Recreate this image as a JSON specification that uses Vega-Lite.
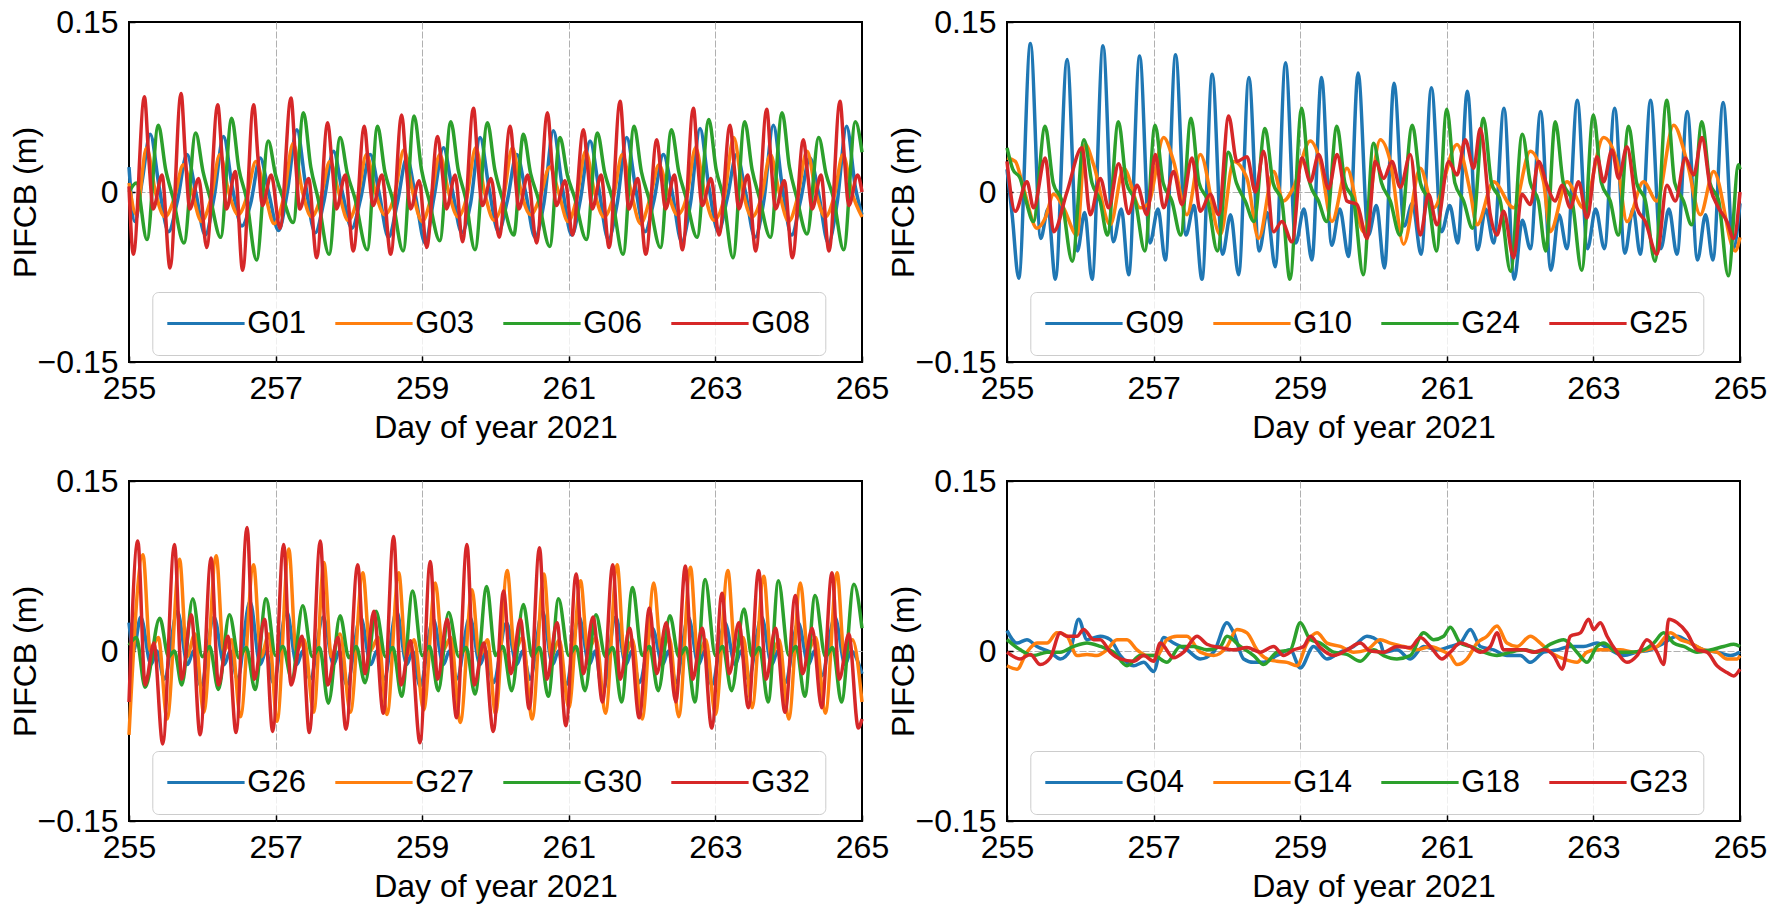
{
"$schema":"https://vega.github.io/schema/vega-lite/v6.json",
"padding":{"left":8,"top":5,"right":5,"bottom":5},
"background":"white",
"columns":2,
"spacing":{"row":119,"column":145},
"bounds":"flush",
"datasets":{
"p1":[
{"s":"G01","t":255.00,"v":0.022},{"s":"G01","t":255.08,"v":-0.026},{"s":"G01","t":255.18,"v":0.01},{"s":"G01","t":255.29,"v":0.051},{"s":"G01","t":255.41,"v":0.005},{"s":"G01","t":255.54,"v":-0.035},{"s":"G01","t":255.66,"v":-0.008},{"s":"G01","t":255.79,"v":0.033},{"s":"G01","t":255.91,"v":0.0},{"s":"G01","t":256.04,"v":-0.038},{"s":"G01","t":256.16,"v":-0.005},{"s":"G01","t":256.29,"v":0.049},{"s":"G01","t":256.41,"v":0.004},{"s":"G01","t":256.54,"v":-0.03},{"s":"G01","t":256.66,"v":-0.01},{"s":"G01","t":256.79,"v":0.03},{"s":"G01","t":256.91,"v":-0.002},{"s":"G01","t":257.04,"v":-0.034},{"s":"G01","t":257.16,"v":0.0},{"s":"G01","t":257.29,"v":0.055},{"s":"G01","t":257.41,"v":0.006},{"s":"G01","t":257.54,"v":-0.036},{"s":"G01","t":257.66,"v":-0.008},{"s":"G01","t":257.79,"v":0.036},{"s":"G01","t":257.91,"v":0.0},{"s":"G01","t":258.04,"v":-0.032},{"s":"G01","t":258.16,"v":-0.006},{"s":"G01","t":258.29,"v":0.033},{"s":"G01","t":258.41,"v":0.0},{"s":"G01","t":258.54,"v":-0.04},{"s":"G01","t":258.66,"v":-0.01},{"s":"G01","t":258.79,"v":0.03},{"s":"G01","t":258.91,"v":-0.004},{"s":"G01","t":259.04,"v":-0.045},{"s":"G01","t":259.16,"v":-0.005},{"s":"G01","t":259.29,"v":0.039},{"s":"G01","t":259.41,"v":0.002},{"s":"G01","t":259.54,"v":-0.036},{"s":"G01","t":259.66,"v":-0.01},{"s":"G01","t":259.79,"v":0.048},{"s":"G01","t":259.91,"v":0.004},{"s":"G01","t":260.04,"v":-0.035},{"s":"G01","t":260.16,"v":-0.008},{"s":"G01","t":260.29,"v":0.033},{"s":"G01","t":260.41,"v":0.0},{"s":"G01","t":260.54,"v":-0.04},{"s":"G01","t":260.66,"v":-0.01},{"s":"G01","t":260.79,"v":0.054},{"s":"G01","t":260.91,"v":0.005},{"s":"G01","t":261.04,"v":-0.038},{"s":"G01","t":261.16,"v":-0.006},{"s":"G01","t":261.29,"v":0.045},{"s":"G01","t":261.41,"v":0.003},{"s":"G01","t":261.54,"v":-0.042},{"s":"G01","t":261.66,"v":-0.01},{"s":"G01","t":261.79,"v":0.048},{"s":"G01","t":261.91,"v":0.004},{"s":"G01","t":262.04,"v":-0.035},{"s":"G01","t":262.16,"v":-0.008},{"s":"G01","t":262.29,"v":0.033},{"s":"G01","t":262.41,"v":0.0},{"s":"G01","t":262.54,"v":-0.044},{"s":"G01","t":262.66,"v":-0.01},{"s":"G01","t":262.79,"v":0.056},{"s":"G01","t":262.91,"v":0.005},{"s":"G01","t":263.04,"v":-0.035},{"s":"G01","t":263.16,"v":-0.006},{"s":"G01","t":263.29,"v":0.033},{"s":"G01","t":263.41,"v":0.0},{"s":"G01","t":263.54,"v":-0.04},{"s":"G01","t":263.66,"v":-0.008},{"s":"G01","t":263.79,"v":0.059},{"s":"G01","t":263.91,"v":0.006},{"s":"G01","t":264.04,"v":-0.038},{"s":"G01","t":264.16,"v":-0.008},{"s":"G01","t":264.29,"v":0.03},{"s":"G01","t":264.41,"v":-0.002},{"s":"G01","t":264.54,"v":-0.045},{"s":"G01","t":264.66,"v":-0.01},{"s":"G01","t":264.79,"v":0.058},{"s":"G01","t":264.91,"v":0.004},{"s":"G01","t":265.00,"v":-0.02},
{"s":"G03","t":255.00,"v":0.008},{"s":"G03","t":255.10,"v":-0.02},{"s":"G03","t":255.24,"v":0.039},{"s":"G03","t":255.36,"v":0.0},{"s":"G03","t":255.49,"v":-0.022},{"s":"G03","t":255.62,"v":-0.005},{"s":"G03","t":255.74,"v":0.024},{"s":"G03","t":255.86,"v":0.0},{"s":"G03","t":255.99,"v":-0.026},{"s":"G03","t":256.12,"v":-0.005},{"s":"G03","t":256.24,"v":0.033},{"s":"G03","t":256.36,"v":0.0},{"s":"G03","t":256.49,"v":-0.02},{"s":"G03","t":256.61,"v":-0.004},{"s":"G03","t":256.73,"v":0.027},{"s":"G03","t":256.85,"v":0.0},{"s":"G03","t":256.98,"v":-0.028},{"s":"G03","t":257.11,"v":-0.005},{"s":"G03","t":257.24,"v":0.043},{"s":"G03","t":257.36,"v":0.002},{"s":"G03","t":257.49,"v":-0.022},{"s":"G03","t":257.62,"v":-0.004},{"s":"G03","t":257.74,"v":0.027},{"s":"G03","t":257.86,"v":0.0},{"s":"G03","t":257.99,"v":-0.025},{"s":"G03","t":258.12,"v":-0.005},{"s":"G03","t":258.24,"v":0.033},{"s":"G03","t":258.36,"v":0.0},{"s":"G03","t":258.49,"v":-0.02},{"s":"G03","t":258.62,"v":-0.004},{"s":"G03","t":258.75,"v":0.037},{"s":"G03","t":258.87,"v":0.0},{"s":"G03","t":259.00,"v":-0.026},{"s":"G03","t":259.12,"v":-0.005},{"s":"G03","t":259.24,"v":0.033},{"s":"G03","t":259.36,"v":0.0},{"s":"G03","t":259.49,"v":-0.022},{"s":"G03","t":259.61,"v":-0.004},{"s":"G03","t":259.73,"v":0.039},{"s":"G03","t":259.85,"v":0.0},{"s":"G03","t":259.98,"v":-0.025},{"s":"G03","t":260.11,"v":-0.005},{"s":"G03","t":260.23,"v":0.039},{"s":"G03","t":260.35,"v":0.0},{"s":"G03","t":260.48,"v":-0.02},{"s":"G03","t":260.61,"v":-0.004},{"s":"G03","t":260.74,"v":0.022},{"s":"G03","t":260.86,"v":0.0},{"s":"G03","t":260.99,"v":-0.026},{"s":"G03","t":261.11,"v":-0.005},{"s":"G03","t":261.23,"v":0.036},{"s":"G03","t":261.35,"v":0.0},{"s":"G03","t":261.48,"v":-0.022},{"s":"G03","t":261.61,"v":-0.004},{"s":"G03","t":261.73,"v":0.033},{"s":"G03","t":261.85,"v":0.0},{"s":"G03","t":261.98,"v":-0.028},{"s":"G03","t":262.11,"v":-0.005},{"s":"G03","t":262.23,"v":0.024},{"s":"G03","t":262.35,"v":0.0},{"s":"G03","t":262.48,"v":-0.02},{"s":"G03","t":262.61,"v":-0.004},{"s":"G03","t":262.73,"v":0.039},{"s":"G03","t":262.85,"v":0.0},{"s":"G03","t":262.98,"v":-0.025},{"s":"G03","t":263.12,"v":-0.005},{"s":"G03","t":263.25,"v":0.048},{"s":"G03","t":263.37,"v":0.002},{"s":"G03","t":263.50,"v":-0.022},{"s":"G03","t":263.63,"v":-0.004},{"s":"G03","t":263.75,"v":0.033},{"s":"G03","t":263.87,"v":0.0},{"s":"G03","t":264.00,"v":-0.026},{"s":"G03","t":264.12,"v":-0.005},{"s":"G03","t":264.25,"v":0.036},{"s":"G03","t":264.37,"v":0.0},{"s":"G03","t":264.50,"v":-0.022},{"s":"G03","t":264.62,"v":-0.004},{"s":"G03","t":264.74,"v":0.033},{"s":"G03","t":264.86,"v":0.0},{"s":"G03","t":265.00,"v":-0.022},
{"s":"G06","t":255.00,"v":0.0},{"s":"G06","t":255.10,"v":0.008},{"s":"G06","t":255.245,"v":-0.042},{"s":"G06","t":255.40,"v":0.059},{"s":"G06","t":255.50,"v":0.02},{"s":"G06","t":255.60,"v":-0.005},{"s":"G06","t":255.75,"v":-0.045},{"s":"G06","t":255.91,"v":0.052},{"s":"G06","t":256.01,"v":0.018},{"s":"G06","t":256.11,"v":-0.006},{"s":"G06","t":256.25,"v":-0.04},{"s":"G06","t":256.40,"v":0.065},{"s":"G06","t":256.50,"v":0.02},{"s":"G06","t":256.60,"v":-0.005},{"s":"G06","t":256.74,"v":-0.06},{"s":"G06","t":256.90,"v":0.045},{"s":"G06","t":257.00,"v":0.015},{"s":"G06","t":257.10,"v":-0.005},{"s":"G06","t":257.24,"v":-0.027},{"s":"G06","t":257.38,"v":0.07},{"s":"G06","t":257.48,"v":0.022},{"s":"G06","t":257.58,"v":-0.006},{"s":"G06","t":257.73,"v":-0.055},{"s":"G06","t":257.88,"v":0.048},{"s":"G06","t":257.98,"v":0.016},{"s":"G06","t":258.08,"v":-0.005},{"s":"G06","t":258.25,"v":-0.051},{"s":"G06","t":258.39,"v":0.058},{"s":"G06","t":258.49,"v":0.018},{"s":"G06","t":258.59,"v":-0.005},{"s":"G06","t":258.74,"v":-0.052},{"s":"G06","t":258.89,"v":0.067},{"s":"G06","t":258.99,"v":0.02},{"s":"G06","t":259.09,"v":-0.006},{"s":"G06","t":259.24,"v":-0.043},{"s":"G06","t":259.39,"v":0.062},{"s":"G06","t":259.49,"v":0.02},{"s":"G06","t":259.59,"v":-0.005},{"s":"G06","t":259.72,"v":-0.051},{"s":"G06","t":259.89,"v":0.061},{"s":"G06","t":259.99,"v":0.02},{"s":"G06","t":260.09,"v":-0.005},{"s":"G06","t":260.25,"v":-0.038},{"s":"G06","t":260.38,"v":0.051},{"s":"G06","t":260.48,"v":0.016},{"s":"G06","t":260.58,"v":-0.005},{"s":"G06","t":260.74,"v":-0.048},{"s":"G06","t":260.88,"v":0.048},{"s":"G06","t":260.98,"v":0.015},{"s":"G06","t":261.08,"v":-0.005},{"s":"G06","t":261.24,"v":-0.042},{"s":"G06","t":261.39,"v":0.052},{"s":"G06","t":261.49,"v":0.017},{"s":"G06","t":261.59,"v":-0.005},{"s":"G06","t":261.74,"v":-0.055},{"s":"G06","t":261.89,"v":0.058},{"s":"G06","t":261.99,"v":0.018},{"s":"G06","t":262.09,"v":-0.005},{"s":"G06","t":262.25,"v":-0.049},{"s":"G06","t":262.40,"v":0.055},{"s":"G06","t":262.50,"v":0.018},{"s":"G06","t":262.60,"v":-0.005},{"s":"G06","t":262.75,"v":-0.04},{"s":"G06","t":262.91,"v":0.064},{"s":"G06","t":263.01,"v":0.02},{"s":"G06","t":263.11,"v":-0.005},{"s":"G06","t":263.24,"v":-0.058},{"s":"G06","t":263.40,"v":0.062},{"s":"G06","t":263.50,"v":0.02},{"s":"G06","t":263.60,"v":-0.005},{"s":"G06","t":263.75,"v":-0.04},{"s":"G06","t":263.91,"v":0.07},{"s":"G06","t":264.01,"v":0.022},{"s":"G06","t":264.11,"v":-0.005},{"s":"G06","t":264.25,"v":-0.037},{"s":"G06","t":264.41,"v":0.048},{"s":"G06","t":264.51,"v":0.016},{"s":"G06","t":264.61,"v":-0.005},{"s":"G06","t":264.75,"v":-0.051},{"s":"G06","t":264.91,"v":0.062},{"s":"G06","t":265.00,"v":0.035},
{"s":"G08","t":255.00,"v":0.005},{"s":"G08","t":255.06,"v":-0.055},{"s":"G08","t":255.21,"v":0.084},{"s":"G08","t":255.27,"v":0.03},{"s":"G08","t":255.33,"v":-0.015},{"s":"G08","t":255.45,"v":0.015},{"s":"G08","t":255.56,"v":-0.067},{"s":"G08","t":255.71,"v":0.087},{"s":"G08","t":255.77,"v":0.03},{"s":"G08","t":255.83,"v":-0.015},{"s":"G08","t":255.95,"v":0.012},{"s":"G08","t":256.06,"v":-0.049},{"s":"G08","t":256.21,"v":0.077},{"s":"G08","t":256.27,"v":0.03},{"s":"G08","t":256.33,"v":-0.015},{"s":"G08","t":256.45,"v":0.018},{"s":"G08","t":256.55,"v":-0.069},{"s":"G08","t":256.70,"v":0.077},{"s":"G08","t":256.76,"v":0.03},{"s":"G08","t":256.82,"v":-0.012},{"s":"G08","t":256.94,"v":0.015},{"s":"G08","t":257.06,"v":-0.032},{"s":"G08","t":257.21,"v":0.083},{"s":"G08","t":257.27,"v":0.03},{"s":"G08","t":257.33,"v":-0.015},{"s":"G08","t":257.45,"v":0.012},{"s":"G08","t":257.56,"v":-0.058},{"s":"G08","t":257.71,"v":0.061},{"s":"G08","t":257.77,"v":0.025},{"s":"G08","t":257.83,"v":-0.015},{"s":"G08","t":257.95,"v":0.015},{"s":"G08","t":258.06,"v":-0.052},{"s":"G08","t":258.21,"v":0.058},{"s":"G08","t":258.27,"v":0.02},{"s":"G08","t":258.33,"v":-0.012},{"s":"G08","t":258.45,"v":0.015},{"s":"G08","t":258.57,"v":-0.055},{"s":"G08","t":258.72,"v":0.068},{"s":"G08","t":258.78,"v":0.025},{"s":"G08","t":258.84,"v":-0.015},{"s":"G08","t":258.96,"v":0.01},{"s":"G08","t":259.06,"v":-0.049},{"s":"G08","t":259.21,"v":0.049},{"s":"G08","t":259.27,"v":0.02},{"s":"G08","t":259.33,"v":-0.015},{"s":"G08","t":259.45,"v":0.015},{"s":"G08","t":259.55,"v":-0.044},{"s":"G08","t":259.70,"v":0.074},{"s":"G08","t":259.76,"v":0.025},{"s":"G08","t":259.82,"v":-0.012},{"s":"G08","t":259.94,"v":0.012},{"s":"G08","t":260.05,"v":-0.04},{"s":"G08","t":260.20,"v":0.058},{"s":"G08","t":260.26,"v":0.02},{"s":"G08","t":260.32,"v":-0.015},{"s":"G08","t":260.44,"v":0.015},{"s":"G08","t":260.56,"v":-0.045},{"s":"G08","t":260.71,"v":0.07},{"s":"G08","t":260.77,"v":0.025},{"s":"G08","t":260.83,"v":-0.012},{"s":"G08","t":260.95,"v":0.01},{"s":"G08","t":261.05,"v":-0.038},{"s":"G08","t":261.20,"v":0.055},{"s":"G08","t":261.26,"v":0.02},{"s":"G08","t":261.32,"v":-0.015},{"s":"G08","t":261.44,"v":0.015},{"s":"G08","t":261.55,"v":-0.049},{"s":"G08","t":261.70,"v":0.08},{"s":"G08","t":261.76,"v":0.03},{"s":"G08","t":261.82,"v":-0.015},{"s":"G08","t":261.94,"v":0.012},{"s":"G08","t":262.05,"v":-0.055},{"s":"G08","t":262.20,"v":0.046},{"s":"G08","t":262.26,"v":0.015},{"s":"G08","t":262.32,"v":-0.015},{"s":"G08","t":262.44,"v":0.015},{"s":"G08","t":262.55,"v":-0.051},{"s":"G08","t":262.70,"v":0.074},{"s":"G08","t":262.76,"v":0.025},{"s":"G08","t":262.82,"v":-0.012},{"s":"G08","t":262.94,"v":0.012},{"s":"G08","t":263.05,"v":-0.038},{"s":"G08","t":263.20,"v":0.059},{"s":"G08","t":263.26,"v":0.02},{"s":"G08","t":263.32,"v":-0.015},{"s":"G08","t":263.44,"v":0.015},{"s":"G08","t":263.55,"v":-0.052},{"s":"G08","t":263.70,"v":0.073},{"s":"G08","t":263.76,"v":0.025},{"s":"G08","t":263.82,"v":-0.015},{"s":"G08","t":263.94,"v":0.01},{"s":"G08","t":264.05,"v":-0.058},{"s":"G08","t":264.20,"v":0.046},{"s":"G08","t":264.26,"v":0.015},{"s":"G08","t":264.32,"v":-0.015},{"s":"G08","t":264.44,"v":0.015},{"s":"G08","t":264.55,"v":-0.052},{"s":"G08","t":264.70,"v":0.08},{"s":"G08","t":264.76,"v":0.03},{"s":"G08","t":264.82,"v":-0.012},{"s":"G08","t":264.94,"v":0.015},{"s":"G08","t":265.00,"v":0.0}
],
"p2":[
{"s":"G09","t":255.00,"v":0.02},{"s":"G09","t":255.07,"v":-0.02},{"s":"G09","t":255.16,"v":-0.076},{"s":"G09","t":255.32,"v":0.131},{"s":"G09","t":255.46,"v":-0.041},{"s":"G09","t":255.56,"v":-0.015},{"s":"G09","t":255.66,"v":-0.077},{"s":"G09","t":255.82,"v":0.117},{"s":"G09","t":255.96,"v":-0.052},{"s":"G09","t":256.06,"v":-0.018},{"s":"G09","t":256.16,"v":-0.077},{"s":"G09","t":256.31,"v":0.129},{"s":"G09","t":256.45,"v":-0.044},{"s":"G09","t":256.56,"v":-0.015},{"s":"G09","t":256.66,"v":-0.073},{"s":"G09","t":256.81,"v":0.12},{"s":"G09","t":256.95,"v":-0.045},{"s":"G09","t":257.06,"v":-0.015},{"s":"G09","t":257.16,"v":-0.06},{"s":"G09","t":257.30,"v":0.121},{"s":"G09","t":257.44,"v":-0.038},{"s":"G09","t":257.55,"v":-0.012},{"s":"G09","t":257.66,"v":-0.077},{"s":"G09","t":257.80,"v":0.104},{"s":"G09","t":257.94,"v":-0.055},{"s":"G09","t":258.05,"v":-0.02},{"s":"G09","t":258.16,"v":-0.073},{"s":"G09","t":258.30,"v":0.101},{"s":"G09","t":258.44,"v":-0.052},{"s":"G09","t":258.55,"v":-0.018},{"s":"G09","t":258.66,"v":-0.066},{"s":"G09","t":258.80,"v":0.114},{"s":"G09","t":258.94,"v":-0.045},{"s":"G09","t":259.05,"v":-0.015},{"s":"G09","t":259.16,"v":-0.06},{"s":"G09","t":259.29,"v":0.101},{"s":"G09","t":259.43,"v":-0.047},{"s":"G09","t":259.54,"v":-0.015},{"s":"G09","t":259.66,"v":-0.057},{"s":"G09","t":259.79,"v":0.105},{"s":"G09","t":259.93,"v":-0.038},{"s":"G09","t":260.04,"v":-0.012},{"s":"G09","t":260.15,"v":-0.067},{"s":"G09","t":260.28,"v":0.096},{"s":"G09","t":260.42,"v":-0.03},{"s":"G09","t":260.53,"v":-0.01},{"s":"G09","t":260.65,"v":-0.055},{"s":"G09","t":260.79,"v":0.092},{"s":"G09","t":260.93,"v":-0.035},{"s":"G09","t":261.04,"v":-0.012},{"s":"G09","t":261.15,"v":-0.045},{"s":"G09","t":261.28,"v":0.089},{"s":"G09","t":261.42,"v":-0.051},{"s":"G09","t":261.53,"v":-0.015},{"s":"G09","t":261.64,"v":-0.045},{"s":"G09","t":261.78,"v":0.074},{"s":"G09","t":261.92,"v":-0.077},{"s":"G09","t":262.03,"v":-0.025},{"s":"G09","t":262.14,"v":-0.05},{"s":"G09","t":262.28,"v":0.071},{"s":"G09","t":262.42,"v":-0.069},{"s":"G09","t":262.53,"v":-0.02},{"s":"G09","t":262.64,"v":-0.05},{"s":"G09","t":262.78,"v":0.081},{"s":"G09","t":262.92,"v":-0.05},{"s":"G09","t":263.03,"v":-0.015},{"s":"G09","t":263.15,"v":-0.05},{"s":"G09","t":263.29,"v":0.074},{"s":"G09","t":263.43,"v":-0.054},{"s":"G09","t":263.54,"v":-0.015},{"s":"G09","t":263.64,"v":-0.055},{"s":"G09","t":263.78,"v":0.081},{"s":"G09","t":263.92,"v":-0.05},{"s":"G09","t":264.03,"v":-0.015},{"s":"G09","t":264.14,"v":-0.055},{"s":"G09","t":264.28,"v":0.071},{"s":"G09","t":264.42,"v":-0.06},{"s":"G09","t":264.53,"v":-0.02},{"s":"G09","t":264.63,"v":-0.06},{"s":"G09","t":264.77,"v":0.079},{"s":"G09","t":264.91,"v":-0.05},{"s":"G09","t":265.00,"v":-0.01},
{"s":"G10","t":255.00,"v":0.03},{"s":"G10","t":255.113,"v":0.027},{"s":"G10","t":255.227,"v":0.003},{"s":"G10","t":255.409,"v":-0.032},{"s":"G10","t":255.522,"v":-0.023},{"s":"G10","t":255.636,"v":-0.002},{"s":"G10","t":255.772,"v":-0.014},{"s":"G10","t":255.955,"v":-0.038},{"s":"G10","t":256.068,"v":0.042},{"s":"G10","t":256.182,"v":0.024},{"s":"G10","t":256.409,"v":-0.029},{"s":"G10","t":256.591,"v":0.021},{"s":"G10","t":256.818,"v":-0.014},{"s":"G10","t":256.932,"v":-0.01},{"s":"G10","t":257.137,"v":0.048},{"s":"G10","t":257.273,"v":0.027},{"s":"G10","t":257.455,"v":-0.02},{"s":"G10","t":257.637,"v":0.033},{"s":"G10","t":257.91,"v":-0.038},{"s":"G10","t":258.092,"v":0.027},{"s":"G10","t":258.274,"v":0.012},{"s":"G10","t":258.433,"v":-0.041},{"s":"G10","t":258.638,"v":0.018},{"s":"G10","t":258.77,"v":-0.008},{"s":"G10","t":258.902,"v":0.003},{"s":"G10","t":259.138,"v":0.045},{"s":"G10","t":259.274,"v":0.027},{"s":"G10","t":259.433,"v":-0.026},{"s":"G10","t":259.638,"v":0.021},{"s":"G10","t":259.865,"v":-0.035},{"s":"G10","t":260.093,"v":0.046},{"s":"G10","t":260.229,"v":0.027},{"s":"G10","t":260.411,"v":-0.046},{"s":"G10","t":260.638,"v":0.021},{"s":"G10","t":260.82,"v":-0.014},{"s":"G10","t":261.139,"v":0.042},{"s":"G10","t":261.32,"v":0.0},{"s":"G10","t":261.411,"v":-0.029},{"s":"G10","t":261.638,"v":0.009},{"s":"G10","t":261.911,"v":-0.014},{"s":"G10","t":262.139,"v":0.036},{"s":"G10","t":262.32,"v":0.009},{"s":"G10","t":262.411,"v":-0.035},{"s":"G10","t":262.639,"v":0.009},{"s":"G10","t":262.866,"v":-0.014},{"s":"G10","t":263.139,"v":0.048},{"s":"G10","t":263.321,"v":0.027},{"s":"G10","t":263.457,"v":-0.026},{"s":"G10","t":263.684,"v":0.009},{"s":"G10","t":263.866,"v":-0.008},{"s":"G10","t":264.094,"v":0.059},{"s":"G10","t":264.276,"v":0.027},{"s":"G10","t":264.458,"v":-0.02},{"s":"G10","t":264.64,"v":0.018},{"s":"G10","t":264.935,"v":-0.052},{"s":"G10","t":265.00,"v":-0.04},
{"s":"G24","t":255.00,"v":0.039},{"s":"G24","t":255.08,"v":0.02},{"s":"G24","t":255.18,"v":0.012},{"s":"G24","t":255.26,"v":-0.008},{"s":"G24","t":255.36,"v":-0.026},{"s":"G24","t":255.52,"v":0.058},{"s":"G24","t":255.63,"v":0.008},{"s":"G24","t":255.75,"v":-0.008},{"s":"G24","t":255.89,"v":-0.061},{"s":"G24","t":256.05,"v":0.046},{"s":"G24","t":256.16,"v":0.008},{"s":"G24","t":256.27,"v":-0.008},{"s":"G24","t":256.37,"v":-0.038},{"s":"G24","t":256.52,"v":0.062},{"s":"G24","t":256.63,"v":0.008},{"s":"G24","t":256.75,"v":-0.008},{"s":"G24","t":256.88,"v":-0.052},{"s":"G24","t":257.02,"v":0.059},{"s":"G24","t":257.13,"v":0.008},{"s":"G24","t":257.25,"v":-0.008},{"s":"G24","t":257.37,"v":-0.038},{"s":"G24","t":257.51,"v":0.065},{"s":"G24","t":257.62,"v":0.008},{"s":"G24","t":257.74,"v":-0.008},{"s":"G24","t":257.87,"v":-0.052},{"s":"G24","t":258.02,"v":0.035},{"s":"G24","t":258.13,"v":0.008},{"s":"G24","t":258.25,"v":-0.008},{"s":"G24","t":258.37,"v":-0.026},{"s":"G24","t":258.52,"v":0.056},{"s":"G24","t":258.63,"v":0.008},{"s":"G24","t":258.75,"v":-0.008},{"s":"G24","t":258.86,"v":-0.077},{"s":"G24","t":259.02,"v":0.074},{"s":"G24","t":259.13,"v":0.008},{"s":"G24","t":259.25,"v":-0.008},{"s":"G24","t":259.36,"v":-0.026},{"s":"G24","t":259.50,"v":0.058},{"s":"G24","t":259.61,"v":0.008},{"s":"G24","t":259.73,"v":-0.008},{"s":"G24","t":259.86,"v":-0.073},{"s":"G24","t":260.00,"v":0.043},{"s":"G24","t":260.11,"v":0.008},{"s":"G24","t":260.23,"v":-0.008},{"s":"G24","t":260.36,"v":-0.038},{"s":"G24","t":260.53,"v":0.059},{"s":"G24","t":260.64,"v":0.008},{"s":"G24","t":260.75,"v":-0.008},{"s":"G24","t":260.86,"v":-0.052},{"s":"G24","t":261.00,"v":0.073},{"s":"G24","t":261.11,"v":0.008},{"s":"G24","t":261.23,"v":-0.008},{"s":"G24","t":261.35,"v":-0.032},{"s":"G24","t":261.50,"v":0.065},{"s":"G24","t":261.61,"v":0.008},{"s":"G24","t":261.73,"v":-0.008},{"s":"G24","t":261.87,"v":-0.07},{"s":"G24","t":262.03,"v":0.051},{"s":"G24","t":262.14,"v":0.008},{"s":"G24","t":262.25,"v":-0.008},{"s":"G24","t":262.35,"v":-0.052},{"s":"G24","t":262.48,"v":0.062},{"s":"G24","t":262.59,"v":0.008},{"s":"G24","t":262.71,"v":-0.008},{"s":"G24","t":262.84,"v":-0.069},{"s":"G24","t":263.00,"v":0.068},{"s":"G24","t":263.11,"v":0.008},{"s":"G24","t":263.23,"v":-0.008},{"s":"G24","t":263.34,"v":-0.038},{"s":"G24","t":263.48,"v":0.058},{"s":"G24","t":263.59,"v":0.008},{"s":"G24","t":263.71,"v":-0.008},{"s":"G24","t":263.84,"v":-0.061},{"s":"G24","t":264.00,"v":0.081},{"s":"G24","t":264.11,"v":0.008},{"s":"G24","t":264.23,"v":-0.008},{"s":"G24","t":264.34,"v":-0.029},{"s":"G24","t":264.48,"v":0.062},{"s":"G24","t":264.59,"v":0.008},{"s":"G24","t":264.71,"v":-0.008},{"s":"G24","t":264.84,"v":-0.074},{"s":"G24","t":264.98,"v":0.024},{"s":"G24","t":265.00,"v":0.02},
{"s":"G25","t":255.00,"v":0.027},{"s":"G25","t":255.113,"v":-0.017},{"s":"G25","t":255.272,"v":0.009},{"s":"G25","t":255.363,"v":-0.014},{"s":"G25","t":255.522,"v":0.03},{"s":"G25","t":255.636,"v":-0.035},{"s":"G25","t":255.818,"v":0.0},{"s":"G25","t":256.023,"v":0.039},{"s":"G25","t":256.136,"v":-0.02},{"s":"G25","t":256.273,"v":0.012},{"s":"G25","t":256.387,"v":-0.014},{"s":"G25","t":256.523,"v":0.025},{"s":"G25","t":256.659,"v":-0.019},{"s":"G25","t":256.773,"v":0.006},{"s":"G25","t":256.909,"v":-0.02},{"s":"G25","t":257.023,"v":0.033},{"s":"G25","t":257.137,"v":-0.014},{"s":"G25","t":257.273,"v":0.018},{"s":"G25","t":257.387,"v":-0.011},{"s":"G25","t":257.524,"v":0.03},{"s":"G25","t":257.637,"v":-0.017},{"s":"G25","t":257.773,"v":-0.002},{"s":"G25","t":257.887,"v":-0.02},{"s":"G25","t":258.024,"v":0.067},{"s":"G25","t":258.137,"v":0.027},{"s":"G25","t":258.274,"v":0.031},{"s":"G25","t":258.388,"v":0.0},{"s":"G25","t":258.501,"v":0.036},{"s":"G25","t":258.637,"v":-0.035},{"s":"G25","t":258.751,"v":-0.026},{"s":"G25","t":258.888,"v":-0.044},{"s":"G25","t":259.024,"v":0.03},{"s":"G25","t":259.138,"v":0.009},{"s":"G25","t":259.252,"v":0.033},{"s":"G25","t":259.388,"v":0.003},{"s":"G25","t":259.502,"v":0.033},{"s":"G25","t":259.638,"v":-0.008},{"s":"G25","t":259.775,"v":-0.011},{"s":"G25","t":259.911,"v":-0.041},{"s":"G25","t":260.025,"v":0.027},{"s":"G25","t":260.14,"v":0.012},{"s":"G25","t":260.252,"v":0.027},{"s":"G25","t":260.365,"v":0.004},{"s":"G25","t":260.502,"v":0.033},{"s":"G25","t":260.638,"v":-0.038},{"s":"G25","t":260.752,"v":-0.002},{"s":"G25","t":260.866,"v":-0.029},{"s":"G25","t":261.025,"v":0.027},{"s":"G25","t":261.139,"v":0.015},{"s":"G25","t":261.252,"v":0.046},{"s":"G25","t":261.366,"v":0.021},{"s":"G25","t":261.457,"v":0.056},{"s":"G25","t":261.593,"v":-0.02},{"s":"G25","t":261.684,"v":-0.038},{"s":"G25","t":261.775,"v":-0.017},{"s":"G25","t":261.912,"v":-0.058},{"s":"G25","t":262.025,"v":-0.002},{"s":"G25","t":262.139,"v":-0.011},{"s":"G25","t":262.253,"v":0.027},{"s":"G25","t":262.366,"v":0.006},{"s":"G25","t":262.48,"v":-0.008},{"s":"G25","t":262.571,"v":0.006},{"s":"G25","t":262.685,"v":-0.014},{"s":"G25","t":262.798,"v":0.009},{"s":"G25","t":262.912,"v":-0.023},{"s":"G25","t":263.049,"v":0.031},{"s":"G25","t":263.14,"v":0.009},{"s":"G25","t":263.253,"v":0.037},{"s":"G25","t":263.344,"v":0.012},{"s":"G25","t":263.458,"v":0.04},{"s":"G25","t":263.594,"v":-0.014},{"s":"G25","t":263.708,"v":-0.026},{"s":"G25","t":263.867,"v":-0.055},{"s":"G25","t":264.003,"v":0.006},{"s":"G25","t":264.117,"v":-0.008},{"s":"G25","t":264.254,"v":0.03},{"s":"G25","t":264.367,"v":0.015},{"s":"G25","t":264.481,"v":0.048},{"s":"G25","t":264.594,"v":0.004},{"s":"G25","t":264.708,"v":-0.014},{"s":"G25","t":264.822,"v":-0.026},{"s":"G25","t":264.913,"v":-0.041},{"s":"G25","t":265.00,"v":0.0}
],
"p3":[
{"s":"G26","t":255.00,"v":0.025},{"s":"G26","t":255.06,"v":0.0},{"s":"G26","t":255.16,"v":0.03},{"s":"G26","t":255.30,"v":-0.012},{"s":"G26","t":255.38,"v":0.0},{"s":"G26","t":255.48,"v":-0.025},{"s":"G26","t":255.66,"v":0.035},{"s":"G26","t":255.80,"v":-0.012},{"s":"G26","t":255.88,"v":0.0},{"s":"G26","t":255.98,"v":-0.031},{"s":"G26","t":256.16,"v":0.03},{"s":"G26","t":256.30,"v":-0.012},{"s":"G26","t":256.38,"v":0.0},{"s":"G26","t":256.48,"v":-0.025},{"s":"G26","t":256.65,"v":0.044},{"s":"G26","t":256.79,"v":-0.012},{"s":"G26","t":256.87,"v":0.0},{"s":"G26","t":256.97,"v":-0.028},{"s":"G26","t":257.15,"v":0.035},{"s":"G26","t":257.29,"v":-0.012},{"s":"G26","t":257.37,"v":0.0},{"s":"G26","t":257.47,"v":-0.025},{"s":"G26","t":257.65,"v":0.03},{"s":"G26","t":257.79,"v":-0.012},{"s":"G26","t":257.87,"v":0.0},{"s":"G26","t":257.97,"v":-0.03},{"s":"G26","t":258.16,"v":0.03},{"s":"G26","t":258.30,"v":-0.012},{"s":"G26","t":258.38,"v":0.0},{"s":"G26","t":258.48,"v":-0.025},{"s":"G26","t":258.65,"v":0.035},{"s":"G26","t":258.79,"v":-0.012},{"s":"G26","t":258.87,"v":0.0},{"s":"G26","t":258.97,"v":-0.031},{"s":"G26","t":259.15,"v":0.028},{"s":"G26","t":259.29,"v":-0.012},{"s":"G26","t":259.37,"v":0.0},{"s":"G26","t":259.47,"v":-0.025},{"s":"G26","t":259.65,"v":0.03},{"s":"G26","t":259.79,"v":-0.012},{"s":"G26","t":259.87,"v":0.0},{"s":"G26","t":259.97,"v":-0.028},{"s":"G26","t":260.15,"v":0.025},{"s":"G26","t":260.29,"v":-0.012},{"s":"G26","t":260.37,"v":0.0},{"s":"G26","t":260.47,"v":-0.025},{"s":"G26","t":260.64,"v":0.035},{"s":"G26","t":260.78,"v":-0.012},{"s":"G26","t":260.86,"v":0.0},{"s":"G26","t":260.96,"v":-0.03},{"s":"G26","t":261.14,"v":0.03},{"s":"G26","t":261.28,"v":-0.012},{"s":"G26","t":261.36,"v":0.0},{"s":"G26","t":261.46,"v":-0.037},{"s":"G26","t":261.64,"v":0.03},{"s":"G26","t":261.78,"v":-0.012},{"s":"G26","t":261.86,"v":0.0},{"s":"G26","t":261.96,"v":-0.028},{"s":"G26","t":262.14,"v":0.02},{"s":"G26","t":262.28,"v":-0.012},{"s":"G26","t":262.36,"v":0.0},{"s":"G26","t":262.46,"v":-0.028},{"s":"G26","t":262.63,"v":0.03},{"s":"G26","t":262.77,"v":-0.012},{"s":"G26","t":262.85,"v":0.0},{"s":"G26","t":262.95,"v":-0.03},{"s":"G26","t":263.13,"v":0.025},{"s":"G26","t":263.27,"v":-0.012},{"s":"G26","t":263.35,"v":0.0},{"s":"G26","t":263.45,"v":-0.025},{"s":"G26","t":263.63,"v":0.03},{"s":"G26","t":263.77,"v":-0.012},{"s":"G26","t":263.85,"v":0.0},{"s":"G26","t":263.95,"v":-0.028},{"s":"G26","t":264.13,"v":0.025},{"s":"G26","t":264.27,"v":-0.012},{"s":"G26","t":264.35,"v":0.0},{"s":"G26","t":264.45,"v":-0.022},{"s":"G26","t":264.63,"v":0.03},{"s":"G26","t":264.77,"v":-0.012},{"s":"G26","t":264.85,"v":0.0},{"s":"G26","t":265.00,"v":-0.02},
{"s":"G27","t":255.00,"v":-0.074},{"s":"G27","t":255.19,"v":0.085},{"s":"G27","t":255.29,"v":0.0},{"s":"G27","t":255.40,"v":0.012},{"s":"G27","t":255.52,"v":-0.06},{"s":"G27","t":255.69,"v":0.081},{"s":"G27","t":255.79,"v":-0.005},{"s":"G27","t":255.90,"v":0.015},{"s":"G27","t":256.02,"v":-0.054},{"s":"G27","t":256.19,"v":0.084},{"s":"G27","t":256.29,"v":0.0},{"s":"G27","t":256.40,"v":0.01},{"s":"G27","t":256.52,"v":-0.058},{"s":"G27","t":256.70,"v":0.076},{"s":"G27","t":256.80,"v":-0.005},{"s":"G27","t":256.91,"v":0.015},{"s":"G27","t":257.02,"v":-0.062},{"s":"G27","t":257.18,"v":0.09},{"s":"G27","t":257.28,"v":0.0},{"s":"G27","t":257.39,"v":0.01},{"s":"G27","t":257.52,"v":-0.054},{"s":"G27","t":257.66,"v":0.078},{"s":"G27","t":257.76,"v":-0.005},{"s":"G27","t":257.88,"v":0.015},{"s":"G27","t":258.02,"v":-0.054},{"s":"G27","t":258.19,"v":0.069},{"s":"G27","t":258.29,"v":0.0},{"s":"G27","t":258.40,"v":0.012},{"s":"G27","t":258.52,"v":-0.056},{"s":"G27","t":258.68,"v":0.069},{"s":"G27","t":258.78,"v":-0.005},{"s":"G27","t":258.89,"v":0.01},{"s":"G27","t":259.02,"v":-0.052},{"s":"G27","t":259.18,"v":0.06},{"s":"G27","t":259.28,"v":0.0},{"s":"G27","t":259.39,"v":0.012},{"s":"G27","t":259.52,"v":-0.063},{"s":"G27","t":259.68,"v":0.054},{"s":"G27","t":259.78,"v":-0.005},{"s":"G27","t":259.89,"v":0.01},{"s":"G27","t":260.00,"v":-0.055},{"s":"G27","t":260.16,"v":0.071},{"s":"G27","t":260.26,"v":0.0},{"s":"G27","t":260.37,"v":0.012},{"s":"G27","t":260.50,"v":-0.06},{"s":"G27","t":260.66,"v":0.068},{"s":"G27","t":260.76,"v":-0.005},{"s":"G27","t":260.87,"v":0.01},{"s":"G27","t":261.00,"v":-0.05},{"s":"G27","t":261.16,"v":0.062},{"s":"G27","t":261.26,"v":0.0},{"s":"G27","t":261.37,"v":0.012},{"s":"G27","t":261.50,"v":-0.055},{"s":"G27","t":261.66,"v":0.076},{"s":"G27","t":261.76,"v":-0.005},{"s":"G27","t":261.87,"v":0.01},{"s":"G27","t":262.00,"v":-0.06},{"s":"G27","t":262.16,"v":0.06},{"s":"G27","t":262.26,"v":0.0},{"s":"G27","t":262.37,"v":0.012},{"s":"G27","t":262.50,"v":-0.058},{"s":"G27","t":262.66,"v":0.074},{"s":"G27","t":262.76,"v":-0.005},{"s":"G27","t":262.87,"v":0.01},{"s":"G27","t":263.00,"v":-0.056},{"s":"G27","t":263.17,"v":0.071},{"s":"G27","t":263.27,"v":0.0},{"s":"G27","t":263.38,"v":0.012},{"s":"G27","t":263.50,"v":-0.05},{"s":"G27","t":263.66,"v":0.066},{"s":"G27","t":263.76,"v":-0.005},{"s":"G27","t":263.87,"v":0.01},{"s":"G27","t":264.00,"v":-0.06},{"s":"G27","t":264.16,"v":0.06},{"s":"G27","t":264.26,"v":0.0},{"s":"G27","t":264.37,"v":0.012},{"s":"G27","t":264.50,"v":-0.055},{"s":"G27","t":264.66,"v":0.069},{"s":"G27","t":264.76,"v":-0.005},{"s":"G27","t":264.87,"v":0.01},{"s":"G27","t":265.00,"v":-0.045},
{"s":"G30","t":255.00,"v":0.005},{"s":"G30","t":255.10,"v":0.012},{"s":"G30","t":255.22,"v":-0.032},{"s":"G30","t":255.42,"v":0.029},{"s":"G30","t":255.54,"v":-0.005},{"s":"G30","t":255.62,"v":0.0},{"s":"G30","t":255.72,"v":-0.03},{"s":"G30","t":255.87,"v":0.046},{"s":"G30","t":256.00,"v":-0.005},{"s":"G30","t":256.10,"v":0.004},{"s":"G30","t":256.22,"v":-0.034},{"s":"G30","t":256.37,"v":0.032},{"s":"G30","t":256.50,"v":-0.006},{"s":"G30","t":256.60,"v":0.003},{"s":"G30","t":256.72,"v":-0.034},{"s":"G30","t":256.87,"v":0.046},{"s":"G30","t":257.00,"v":-0.004},{"s":"G30","t":257.10,"v":0.004},{"s":"G30","t":257.22,"v":-0.025},{"s":"G30","t":257.37,"v":0.04},{"s":"G30","t":257.50,"v":-0.005},{"s":"G30","t":257.60,"v":0.003},{"s":"G30","t":257.72,"v":-0.046},{"s":"G30","t":257.88,"v":0.031},{"s":"G30","t":258.00,"v":-0.006},{"s":"G30","t":258.10,"v":0.004},{"s":"G30","t":258.22,"v":-0.028},{"s":"G30","t":258.37,"v":0.035},{"s":"G30","t":258.50,"v":-0.005},{"s":"G30","t":258.60,"v":0.003},{"s":"G30","t":258.72,"v":-0.04},{"s":"G30","t":258.87,"v":0.053},{"s":"G30","t":259.00,"v":-0.004},{"s":"G30","t":259.10,"v":0.004},{"s":"G30","t":259.22,"v":-0.035},{"s":"G30","t":259.36,"v":0.034},{"s":"G30","t":259.50,"v":-0.005},{"s":"G30","t":259.60,"v":0.003},{"s":"G30","t":259.72,"v":-0.038},{"s":"G30","t":259.88,"v":0.057},{"s":"G30","t":260.00,"v":-0.004},{"s":"G30","t":260.10,"v":0.004},{"s":"G30","t":260.22,"v":-0.035},{"s":"G30","t":260.38,"v":0.041},{"s":"G30","t":260.50,"v":-0.005},{"s":"G30","t":260.60,"v":0.003},{"s":"G30","t":260.72,"v":-0.04},{"s":"G30","t":260.86,"v":0.046},{"s":"G30","t":261.00,"v":-0.004},{"s":"G30","t":261.10,"v":0.004},{"s":"G30","t":261.22,"v":-0.035},{"s":"G30","t":261.37,"v":0.032},{"s":"G30","t":261.50,"v":-0.005},{"s":"G30","t":261.60,"v":0.003},{"s":"G30","t":261.72,"v":-0.045},{"s":"G30","t":261.87,"v":0.056},{"s":"G30","t":262.00,"v":-0.004},{"s":"G30","t":262.10,"v":0.004},{"s":"G30","t":262.22,"v":-0.035},{"s":"G30","t":262.38,"v":0.031},{"s":"G30","t":262.50,"v":-0.005},{"s":"G30","t":262.60,"v":0.003},{"s":"G30","t":262.72,"v":-0.045},{"s":"G30","t":262.86,"v":0.063},{"s":"G30","t":263.00,"v":-0.004},{"s":"G30","t":263.10,"v":0.004},{"s":"G30","t":263.22,"v":-0.035},{"s":"G30","t":263.39,"v":0.037},{"s":"G30","t":263.50,"v":-0.005},{"s":"G30","t":263.60,"v":0.003},{"s":"G30","t":263.72,"v":-0.045},{"s":"G30","t":263.86,"v":0.062},{"s":"G30","t":264.00,"v":-0.004},{"s":"G30","t":264.10,"v":0.004},{"s":"G30","t":264.22,"v":-0.04},{"s":"G30","t":264.36,"v":0.049},{"s":"G30","t":264.50,"v":-0.005},{"s":"G30","t":264.60,"v":0.003},{"s":"G30","t":264.72,"v":-0.045},{"s":"G30","t":264.89,"v":0.059},{"s":"G30","t":265.00,"v":0.02},
{"s":"G32","t":255.00,"v":-0.045},{"s":"G32","t":255.12,"v":0.097},{"s":"G32","t":255.22,"v":-0.03},{"s":"G32","t":255.34,"v":0.007},{"s":"G32","t":255.46,"v":-0.082},{"s":"G32","t":255.62,"v":0.094},{"s":"G32","t":255.72,"v":-0.025},{"s":"G32","t":255.85,"v":0.032},{"s":"G32","t":255.97,"v":-0.074},{"s":"G32","t":256.12,"v":0.082},{"s":"G32","t":256.22,"v":-0.03},{"s":"G32","t":256.35,"v":0.013},{"s":"G32","t":256.46,"v":-0.072},{"s":"G32","t":256.61,"v":0.109},{"s":"G32","t":256.71,"v":-0.025},{"s":"G32","t":256.85,"v":0.028},{"s":"G32","t":256.96,"v":-0.071},{"s":"G32","t":257.11,"v":0.094},{"s":"G32","t":257.21,"v":-0.03},{"s":"G32","t":257.36,"v":0.013},{"s":"G32","t":257.46,"v":-0.072},{"s":"G32","t":257.61,"v":0.097},{"s":"G32","t":257.71,"v":-0.03},{"s":"G32","t":257.85,"v":0.012},{"s":"G32","t":257.96,"v":-0.069},{"s":"G32","t":258.12,"v":0.076},{"s":"G32","t":258.22,"v":-0.02},{"s":"G32","t":258.34,"v":0.035},{"s":"G32","t":258.47,"v":-0.055},{"s":"G32","t":258.61,"v":0.101},{"s":"G32","t":258.71,"v":-0.03},{"s":"G32","t":258.84,"v":0.009},{"s":"G32","t":258.97,"v":-0.081},{"s":"G32","t":259.11,"v":0.079},{"s":"G32","t":259.21,"v":-0.025},{"s":"G32","t":259.34,"v":0.028},{"s":"G32","t":259.47,"v":-0.059},{"s":"G32","t":259.61,"v":0.094},{"s":"G32","t":259.71,"v":-0.03},{"s":"G32","t":259.84,"v":0.007},{"s":"G32","t":259.97,"v":-0.071},{"s":"G32","t":260.11,"v":0.053},{"s":"G32","t":260.21,"v":-0.02},{"s":"G32","t":260.34,"v":0.028},{"s":"G32","t":260.46,"v":-0.051},{"s":"G32","t":260.60,"v":0.091},{"s":"G32","t":260.70,"v":-0.025},{"s":"G32","t":260.84,"v":0.025},{"s":"G32","t":260.96,"v":-0.066},{"s":"G32","t":261.10,"v":0.068},{"s":"G32","t":261.20,"v":-0.02},{"s":"G32","t":261.33,"v":0.03},{"s":"G32","t":261.46,"v":-0.045},{"s":"G32","t":261.60,"v":0.076},{"s":"G32","t":261.70,"v":-0.025},{"s":"G32","t":261.83,"v":0.02},{"s":"G32","t":261.96,"v":-0.059},{"s":"G32","t":262.10,"v":0.038},{"s":"G32","t":262.20,"v":-0.02},{"s":"G32","t":262.33,"v":0.025},{"s":"G32","t":262.46,"v":-0.045},{"s":"G32","t":262.59,"v":0.075},{"s":"G32","t":262.69,"v":-0.025},{"s":"G32","t":262.82,"v":0.02},{"s":"G32","t":262.95,"v":-0.068},{"s":"G32","t":263.09,"v":0.051},{"s":"G32","t":263.19,"v":-0.02},{"s":"G32","t":263.32,"v":0.025},{"s":"G32","t":263.45,"v":-0.05},{"s":"G32","t":263.59,"v":0.071},{"s":"G32","t":263.69,"v":-0.025},{"s":"G32","t":263.82,"v":0.02},{"s":"G32","t":263.95,"v":-0.054},{"s":"G32","t":264.09,"v":0.049},{"s":"G32","t":264.19,"v":-0.02},{"s":"G32","t":264.32,"v":0.02},{"s":"G32","t":264.45,"v":-0.05},{"s":"G32","t":264.59,"v":0.069},{"s":"G32","t":264.69,"v":-0.025},{"s":"G32","t":264.82,"v":0.015},{"s":"G32","t":264.95,"v":-0.068},{"s":"G32","t":265.00,"v":-0.06}
],
"p4":[
{"s":"G04","t":255.00,"v":0.018},{"s":"G04","t":255.136,"v":0.007},{"s":"G04","t":255.272,"v":0.01},{"s":"G04","t":255.409,"v":0.004},{"s":"G04","t":255.591,"v":-0.001},{"s":"G04","t":255.727,"v":-0.007},{"s":"G04","t":255.864,"v":0.001},{"s":"G04","t":255.977,"v":0.028},{"s":"G04","t":256.091,"v":0.01},{"s":"G04","t":256.273,"v":0.013},{"s":"G04","t":256.409,"v":0.01},{"s":"G04","t":256.546,"v":-0.004},{"s":"G04","t":256.728,"v":-0.013},{"s":"G04","t":256.864,"v":-0.01},{"s":"G04","t":257.001,"v":-0.018},{"s":"G04","t":257.137,"v":0.012},{"s":"G04","t":257.273,"v":0.007},{"s":"G04","t":257.455,"v":0.001},{"s":"G04","t":257.637,"v":-0.007},{"s":"G04","t":257.819,"v":-0.001},{"s":"G04","t":258.001,"v":0.025},{"s":"G04","t":258.092,"v":0.016},{"s":"G04","t":258.228,"v":-0.007},{"s":"G04","t":258.365,"v":-0.01},{"s":"G04","t":258.501,"v":-0.01},{"s":"G04","t":258.683,"v":-0.004},{"s":"G04","t":258.865,"v":0.001},{"s":"G04","t":259.001,"v":-0.015},{"s":"G04","t":259.183,"v":0.004},{"s":"G04","t":259.365,"v":-0.007},{"s":"G04","t":259.547,"v":-0.001},{"s":"G04","t":259.729,"v":0.004},{"s":"G04","t":259.911,"v":0.013},{"s":"G04","t":260.093,"v":0.007},{"s":"G04","t":260.138,"v":-0.001},{"s":"G04","t":260.32,"v":0.001},{"s":"G04","t":260.502,"v":-0.007},{"s":"G04","t":260.684,"v":0.004},{"s":"G04","t":260.866,"v":0.001},{"s":"G04","t":261.048,"v":0.004},{"s":"G04","t":261.184,"v":0.007},{"s":"G04","t":261.321,"v":0.019},{"s":"G04","t":261.457,"v":0.004},{"s":"G04","t":261.639,"v":0.001},{"s":"G04","t":261.821,"v":-0.004},{"s":"G04","t":262.003,"v":-0.004},{"s":"G04","t":262.14,"v":-0.01},{"s":"G04","t":262.322,"v":-0.001},{"s":"G04","t":262.504,"v":0.001},{"s":"G04","t":262.685,"v":0.004},{"s":"G04","t":262.867,"v":0.004},{"s":"G04","t":263.049,"v":0.007},{"s":"G04","t":263.231,"v":0.001},{"s":"G04","t":263.413,"v":-0.004},{"s":"G04","t":263.595,"v":-0.001},{"s":"G04","t":263.777,"v":0.001},{"s":"G04","t":263.959,"v":0.007},{"s":"G04","t":264.141,"v":0.013},{"s":"G04","t":264.323,"v":0.007},{"s":"G04","t":264.504,"v":0.001},{"s":"G04","t":264.686,"v":-0.001},{"s":"G04","t":264.868,"v":-0.004},{"s":"G04","t":265.00,"v":-0.001},
{"s":"G14","t":255.00,"v":-0.013},{"s":"G14","t":255.136,"v":-0.016},{"s":"G14","t":255.272,"v":-0.001},{"s":"G14","t":255.409,"v":0.007},{"s":"G14","t":255.545,"v":0.007},{"s":"G14","t":255.682,"v":0.016},{"s":"G14","t":255.818,"v":0.013},{"s":"G14","t":255.955,"v":-0.004},{"s":"G14","t":256.091,"v":-0.003},{"s":"G14","t":256.227,"v":-0.004},{"s":"G14","t":256.364,"v":0.001},{"s":"G14","t":256.50,"v":0.01},{"s":"G14","t":256.637,"v":0.01},{"s":"G14","t":256.773,"v":0.001},{"s":"G14","t":256.91,"v":-0.004},{"s":"G14","t":257.046,"v":-0.004},{"s":"G14","t":257.182,"v":0.01},{"s":"G14","t":257.319,"v":0.013},{"s":"G14","t":257.455,"v":0.013},{"s":"G14","t":257.637,"v":-0.001},{"s":"G14","t":257.819,"v":-0.004},{"s":"G14","t":258.001,"v":0.004},{"s":"G14","t":258.137,"v":0.019},{"s":"G14","t":258.274,"v":0.016},{"s":"G14","t":258.41,"v":0.001},{"s":"G14","t":258.547,"v":-0.007},{"s":"G14","t":258.683,"v":-0.009},{"s":"G14","t":258.82,"v":-0.01},{"s":"G14","t":258.956,"v":-0.013},{"s":"G14","t":259.092,"v":0.007},{"s":"G14","t":259.229,"v":0.016},{"s":"G14","t":259.365,"v":0.007},{"s":"G14","t":259.547,"v":0.004},{"s":"G14","t":259.729,"v":-0.001},{"s":"G14","t":259.911,"v":0.001},{"s":"G14","t":260.093,"v":0.01},{"s":"G14","t":260.229,"v":0.007},{"s":"G14","t":260.411,"v":0.004},{"s":"G14","t":260.593,"v":0.001},{"s":"G14","t":260.775,"v":0.004},{"s":"G14","t":260.912,"v":0.001},{"s":"G14","t":261.048,"v":-0.004},{"s":"G14","t":261.139,"v":-0.012},{"s":"G14","t":261.275,"v":-0.007},{"s":"G14","t":261.412,"v":0.007},{"s":"G14","t":261.548,"v":0.013},{"s":"G14","t":261.685,"v":0.022},{"s":"G14","t":261.821,"v":0.007},{"s":"G14","t":261.958,"v":0.004},{"s":"G14","t":262.14,"v":0.013},{"s":"G14","t":262.276,"v":0.007},{"s":"G14","t":262.413,"v":-0.001},{"s":"G14","t":262.595,"v":-0.007},{"s":"G14","t":262.776,"v":-0.01},{"s":"G14","t":262.913,"v":-0.001},{"s":"G14","t":263.049,"v":0.001},{"s":"G14","t":263.186,"v":0.001},{"s":"G14","t":263.367,"v":0.001},{"s":"G14","t":263.549,"v":-0.001},{"s":"G14","t":263.731,"v":0.001},{"s":"G14","t":263.868,"v":0.004},{"s":"G14","t":264.05,"v":0.016},{"s":"G14","t":264.186,"v":0.01},{"s":"G14","t":264.323,"v":0.007},{"s":"G14","t":264.504,"v":0.001},{"s":"G14","t":264.686,"v":-0.001},{"s":"G14","t":264.823,"v":-0.007},{"s":"G14","t":264.959,"v":-0.007},{"s":"G14","t":265.00,"v":-0.004},
{"s":"G18","t":255.00,"v":0.01},{"s":"G18","t":255.181,"v":0.001},{"s":"G18","t":255.363,"v":-0.004},{"s":"G18","t":255.545,"v":-0.001},{"s":"G18","t":255.727,"v":-0.001},{"s":"G18","t":255.909,"v":0.004},{"s":"G18","t":256.091,"v":0.007},{"s":"G18","t":256.273,"v":0.004},{"s":"G18","t":256.455,"v":-0.001},{"s":"G18","t":256.637,"v":-0.013},{"s":"G18","t":256.819,"v":-0.004},{"s":"G18","t":257.001,"v":-0.004},{"s":"G18","t":257.182,"v":-0.01},{"s":"G18","t":257.364,"v":0.004},{"s":"G18","t":257.546,"v":0.004},{"s":"G18","t":257.728,"v":0.001},{"s":"G18","t":257.91,"v":0.004},{"s":"G18","t":258.001,"v":0.013},{"s":"G18","t":258.183,"v":0.004},{"s":"G18","t":258.365,"v":-0.004},{"s":"G18","t":258.501,"v":-0.012},{"s":"G18","t":258.683,"v":-0.001},{"s":"G18","t":258.865,"v":0.001},{"s":"G18","t":259.001,"v":0.025},{"s":"G18","t":259.138,"v":0.01},{"s":"G18","t":259.274,"v":0.007},{"s":"G18","t":259.456,"v":-0.001},{"s":"G18","t":259.638,"v":-0.003},{"s":"G18","t":259.82,"v":-0.009},{"s":"G18","t":260.002,"v":0.001},{"s":"G18","t":260.138,"v":-0.004},{"s":"G18","t":260.32,"v":-0.007},{"s":"G18","t":260.502,"v":-0.004},{"s":"G18","t":260.684,"v":0.016},{"s":"G18","t":260.821,"v":0.01},{"s":"G18","t":260.957,"v":0.013},{"s":"G18","t":261.048,"v":0.021},{"s":"G18","t":261.184,"v":0.007},{"s":"G18","t":261.321,"v":0.004},{"s":"G18","t":261.503,"v":-0.001},{"s":"G18","t":261.685,"v":-0.004},{"s":"G18","t":261.867,"v":-0.001},{"s":"G18","t":262.049,"v":0.001},{"s":"G18","t":262.231,"v":-0.001},{"s":"G18","t":262.413,"v":0.006},{"s":"G18","t":262.595,"v":0.01},{"s":"G18","t":262.776,"v":-0.001},{"s":"G18","t":262.913,"v":-0.01},{"s":"G18","t":263.049,"v":0.004},{"s":"G18","t":263.14,"v":0.007},{"s":"G18","t":263.322,"v":-0.001},{"s":"G18","t":263.504,"v":-0.001},{"s":"G18","t":263.686,"v":0.001},{"s":"G18","t":263.822,"v":0.007},{"s":"G18","t":263.959,"v":0.016},{"s":"G18","t":264.095,"v":0.007},{"s":"G18","t":264.232,"v":0.004},{"s":"G18","t":264.414,"v":-0.001},{"s":"G18","t":264.595,"v":0.001},{"s":"G18","t":264.777,"v":0.004},{"s":"G18","t":264.914,"v":0.006},{"s":"G18","t":265.00,"v":0.004},
{"s":"G23","t":255.00,"v":-0.001},{"s":"G23","t":255.181,"v":-0.007},{"s":"G23","t":255.318,"v":-0.003},{"s":"G23","t":255.454,"v":-0.012},{"s":"G23","t":255.591,"v":-0.006},{"s":"G23","t":255.727,"v":0.016},{"s":"G23","t":255.818,"v":0.013},{"s":"G23","t":255.955,"v":0.013},{"s":"G23","t":256.045,"v":0.019},{"s":"G23","t":256.182,"v":0.01},{"s":"G23","t":256.273,"v":0.01},{"s":"G23","t":256.409,"v":-0.001},{"s":"G23","t":256.546,"v":-0.007},{"s":"G23","t":256.728,"v":-0.009},{"s":"G23","t":256.864,"v":-0.004},{"s":"G23","t":257.001,"v":-0.009},{"s":"G23","t":257.091,"v":0.007},{"s":"G23","t":257.273,"v":-0.006},{"s":"G23","t":257.41,"v":-0.001},{"s":"G23","t":257.592,"v":0.013},{"s":"G23","t":257.728,"v":0.006},{"s":"G23","t":257.91,"v":0.003},{"s":"G23","t":258.092,"v":0.001},{"s":"G23","t":258.274,"v":0.003},{"s":"G23","t":258.456,"v":-0.001},{"s":"G23","t":258.638,"v":0.004},{"s":"G23","t":258.774,"v":-0.004},{"s":"G23","t":258.911,"v":0.001},{"s":"G23","t":259.047,"v":0.004},{"s":"G23","t":259.138,"v":0.013},{"s":"G23","t":259.274,"v":0.003},{"s":"G23","t":259.456,"v":-0.004},{"s":"G23","t":259.638,"v":0.001},{"s":"G23","t":259.82,"v":0.007},{"s":"G23","t":259.956,"v":0.0},{"s":"G23","t":260.138,"v":-0.001},{"s":"G23","t":260.32,"v":0.004},{"s":"G23","t":260.502,"v":0.003},{"s":"G23","t":260.639,"v":0.012},{"s":"G23","t":260.775,"v":0.004},{"s":"G23","t":260.934,"v":-0.007},{"s":"G23","t":261.048,"v":-0.001},{"s":"G23","t":261.184,"v":0.007},{"s":"G23","t":261.321,"v":0.004},{"s":"G23","t":261.457,"v":-0.001},{"s":"G23","t":261.594,"v":0.004},{"s":"G23","t":261.685,"v":0.016},{"s":"G23","t":261.776,"v":0.001},{"s":"G23","t":261.912,"v":0.001},{"s":"G23","t":262.049,"v":0.001},{"s":"G23","t":262.185,"v":-0.001},{"s":"G23","t":262.322,"v":0.001},{"s":"G23","t":262.458,"v":-0.004},{"s":"G23","t":262.572,"v":-0.016},{"s":"G23","t":262.685,"v":0.013},{"s":"G23","t":262.822,"v":0.016},{"s":"G23","t":262.935,"v":0.028},{"s":"G23","t":263.004,"v":0.019},{"s":"G23","t":263.095,"v":0.025},{"s":"G23","t":263.186,"v":0.013},{"s":"G23","t":263.322,"v":-0.001},{"s":"G23","t":263.458,"v":-0.01},{"s":"G23","t":263.595,"v":-0.004},{"s":"G23","t":263.731,"v":0.01},{"s":"G23","t":263.868,"v":-0.001},{"s":"G23","t":263.959,"v":-0.012},{"s":"G23","t":264.027,"v":0.028},{"s":"G23","t":264.141,"v":0.025},{"s":"G23","t":264.277,"v":0.016},{"s":"G23","t":264.414,"v":0.001},{"s":"G23","t":264.55,"v":-0.001},{"s":"G23","t":264.686,"v":-0.013},{"s":"G23","t":264.823,"v":-0.019},{"s":"G23","t":264.914,"v":-0.022},{"s":"G23","t":265.00,"v":-0.016}
]
},
"concat":[
{"width":733,"height":340,"data":{"name":"p1"},
 "mark":{"type":"line","strokeWidth":3.5,"interpolate":"monotone"},
 "encoding":{
  "x":{"field":"t","type":"quantitative","scale":{"domain":[255,265],"nice":false,"zero":false},"axis":{"values":[255,257,259,261,263,265],"format":"d","title":"Day of year 2021","grid":true,"gridOpacity":{"condition":{"test":"datum.value == 255 || datum.value == 265","value":0},"value":1},"labelPadding":42,"labelBaseline":"alphabetic","titleX":366.5,"titleY":75,"titleBaseline":"alphabetic"}},
  "y":{"field":"v","type":"quantitative","scale":{"domain":[-0.15,0.15],"nice":false,"zero":false},"axis":{"values":[-0.15,0,0.15],"labelExpr":"datum.value == 0 ? '0' : replace(format(datum.value, '.2f'), '-', '−')","title":"PIFCB (m)","grid":true,"gridOpacity":{"condition":{"test":"abs(datum.value) > 0.1","value":0},"value":1},"labelPadding":17,"labelBaseline":"middle","titleX":-94,"titleY":180,"titleAngle":-90,"titleBaseline":"alphabetic","titleAlign":"center"}},
  "color":{"field":"s","type":"nominal","scale":{"domain":["G01","G03","G06","G08"],"range":["#1f77b4","#ff7f0e","#2ca02c","#d62728"]},"legend":{"title":null,"orient":"none","legendX":23.3,"legendY":270,"direction":"horizontal","columns":4}}
 }},
{"width":733,"height":340,"data":{"name":"p2"},
 "mark":{"type":"line","strokeWidth":3.5,"interpolate":"monotone"},
 "encoding":{
  "x":{"field":"t","type":"quantitative","scale":{"domain":[255,265],"nice":false,"zero":false},"axis":{"values":[255,257,259,261,263,265],"format":"d","title":"Day of year 2021","grid":true,"gridOpacity":{"condition":{"test":"datum.value == 255 || datum.value == 265","value":0},"value":1},"labelPadding":42,"labelBaseline":"alphabetic","titleX":366.5,"titleY":75,"titleBaseline":"alphabetic"}},
  "y":{"field":"v","type":"quantitative","scale":{"domain":[-0.15,0.15],"nice":false,"zero":false},"axis":{"values":[-0.15,0,0.15],"labelExpr":"datum.value == 0 ? '0' : replace(format(datum.value, '.2f'), '-', '−')","title":"PIFCB (m)","grid":true,"gridOpacity":{"condition":{"test":"abs(datum.value) > 0.1","value":0},"value":1},"labelPadding":17,"labelBaseline":"middle","titleX":-94,"titleY":180,"titleAngle":-90,"titleBaseline":"alphabetic","titleAlign":"center"}},
  "color":{"field":"s","type":"nominal","scale":{"domain":["G09","G10","G24","G25"],"range":["#1f77b4","#ff7f0e","#2ca02c","#d62728"]},"legend":{"title":null,"orient":"none","legendX":23.3,"legendY":270,"direction":"horizontal","columns":4}}
 }},
{"width":733,"height":340,"data":{"name":"p3"},
 "mark":{"type":"line","strokeWidth":3.5,"interpolate":"monotone"},
 "encoding":{
  "x":{"field":"t","type":"quantitative","scale":{"domain":[255,265],"nice":false,"zero":false},"axis":{"values":[255,257,259,261,263,265],"format":"d","title":"Day of year 2021","grid":true,"gridOpacity":{"condition":{"test":"datum.value == 255 || datum.value == 265","value":0},"value":1},"labelPadding":42,"labelBaseline":"alphabetic","titleX":366.5,"titleY":75,"titleBaseline":"alphabetic"}},
  "y":{"field":"v","type":"quantitative","scale":{"domain":[-0.15,0.15],"nice":false,"zero":false},"axis":{"values":[-0.15,0,0.15],"labelExpr":"datum.value == 0 ? '0' : replace(format(datum.value, '.2f'), '-', '−')","title":"PIFCB (m)","grid":true,"gridOpacity":{"condition":{"test":"abs(datum.value) > 0.1","value":0},"value":1},"labelPadding":17,"labelBaseline":"middle","titleX":-94,"titleY":180,"titleAngle":-90,"titleBaseline":"alphabetic","titleAlign":"center"}},
  "color":{"field":"s","type":"nominal","scale":{"domain":["G26","G27","G30","G32"],"range":["#1f77b4","#ff7f0e","#2ca02c","#d62728"]},"legend":{"title":null,"orient":"none","legendX":23.3,"legendY":270,"direction":"horizontal","columns":4}}
 }},
{"width":733,"height":340,"data":{"name":"p4"},
 "mark":{"type":"line","strokeWidth":3.5,"interpolate":"monotone"},
 "encoding":{
  "x":{"field":"t","type":"quantitative","scale":{"domain":[255,265],"nice":false,"zero":false},"axis":{"values":[255,257,259,261,263,265],"format":"d","title":"Day of year 2021","grid":true,"gridOpacity":{"condition":{"test":"datum.value == 255 || datum.value == 265","value":0},"value":1},"labelPadding":42,"labelBaseline":"alphabetic","titleX":366.5,"titleY":75,"titleBaseline":"alphabetic"}},
  "y":{"field":"v","type":"quantitative","scale":{"domain":[-0.15,0.15],"nice":false,"zero":false},"axis":{"values":[-0.15,0,0.15],"labelExpr":"datum.value == 0 ? '0' : replace(format(datum.value, '.2f'), '-', '−')","title":"PIFCB (m)","grid":true,"gridOpacity":{"condition":{"test":"abs(datum.value) > 0.1","value":0},"value":1},"labelPadding":17,"labelBaseline":"middle","titleX":-94,"titleY":180,"titleAngle":-90,"titleBaseline":"alphabetic","titleAlign":"center"}},
  "color":{"field":"s","type":"nominal","scale":{"domain":["G04","G14","G18","G23"],"range":["#1f77b4","#ff7f0e","#2ca02c","#d62728"]},"legend":{"title":null,"orient":"none","legendX":23.3,"legendY":270,"direction":"horizontal","columns":4}}
 }}
],
"resolve":{"scale":{"color":"independent","x":"independent","y":"independent"}},
"config":{
 "font":"Liberation Sans",
 "view":{"stroke":"black","strokeWidth":2},
 "axis":{"labelFont":"Liberation Sans","titleFont":"Liberation Sans","labelFontSize":32,"titleFontSize":32,"titleFontWeight":"normal","labelColor":"black","titleColor":"black","domain":false,"ticks":true,"tickColor":"black","tickSize":-6,"tickWidth":1.5,"gridColor":"#b0b0b0","gridDash":[7,2],"gridWidth":1,"labelFlush":false,"labelOverlap":false},
 "legend":{"symbolType":"M-4,0H4","symbolSize":437,"symbolStrokeWidth":3,"symbolOffset":20,"labelOffset":29,"columnPadding":29,"padding":15,"clipHeight":33,"strokeColor":"#cccccc","fillColor":"rgba(255,255,255,0.8)","cornerRadius":6,"labelFont":"Liberation Sans","labelFontSize":31,"labelColor":"black","rowPadding":0}
}
}
